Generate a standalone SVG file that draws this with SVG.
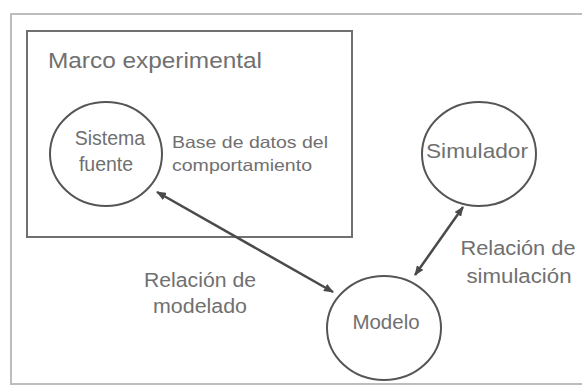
<svg xmlns="http://www.w3.org/2000/svg" width="582" height="392" viewBox="0 0 582 392">
<defs>
<marker id="ah" viewBox="0 0 10 8" refX="9" refY="4" markerWidth="4" markerHeight="3.2" orient="auto-start-reverse" markerUnits="strokeWidth">
<path d="M0,0 L10,4 L0,8 z" fill="#4a4a4a"/>
</marker>
<style>
.t{font-family:"Liberation Sans",Arial,sans-serif;fill:#707070;}
.node{fill:#fff;stroke:#555;stroke-width:2;}
.conn{stroke:#4a4a4a;stroke-width:2.5;fill:none;marker-start:url(#ah);marker-end:url(#ah);}
</style>
</defs>
<rect width="582" height="392" fill="#fff"/>
<rect id="outer" x="11" y="14" width="590" height="370" fill="none" stroke="#bdbdbd" stroke-width="2"/>
<g id="marco">
<rect x="27" y="31" width="325" height="206" fill="none" stroke="#707070" stroke-width="2"/>
<text class="t" x="48" y="68" font-size="22" textLength="214" lengthAdjust="spacingAndGlyphs">Marco experimental</text>
</g>
<g id="base-datos">
<text class="t" x="172" y="148" font-size="16.5" textLength="156" lengthAdjust="spacingAndGlyphs">Base de datos del</text>
<text class="t" x="172" y="171" font-size="16.5" textLength="140" lengthAdjust="spacingAndGlyphs">comportamiento</text>
</g>
<g id="conectores">
<line class="conn" x1="157" y1="192" x2="333" y2="292"/>
<line class="conn" x1="463" y1="207" x2="415" y2="275"/>
</g>
<g id="sistema">
<ellipse class="node" cx="106" cy="154" rx="56" ry="52"/>
<text class="t" x="110" y="145" font-size="19.5" text-anchor="middle">Sistema</text>
<text class="t" x="106" y="171" font-size="19.5" text-anchor="middle">fuente</text>
</g>
<g id="simulador">
<ellipse class="node" cx="479" cy="154" rx="57" ry="52"/>
<text class="t" x="477" y="158" font-size="21" text-anchor="middle" textLength="102" lengthAdjust="spacingAndGlyphs">Simulador</text>
</g>
<g id="modelo">
<ellipse class="node" cx="384" cy="328" rx="57" ry="52"/>
<text class="t" x="386" y="329" font-size="20.5" text-anchor="middle">Modelo</text>
</g>
<g id="rel-modelado">
<text class="t" x="200" y="287" font-size="20" text-anchor="middle" textLength="112" lengthAdjust="spacingAndGlyphs">Relación de</text>
<text class="t" x="200" y="313" font-size="20" text-anchor="middle" textLength="94" lengthAdjust="spacingAndGlyphs">modelado</text>
</g>
<g id="rel-simulacion">
<text class="t" x="518" y="255" font-size="20" text-anchor="middle" textLength="115" lengthAdjust="spacingAndGlyphs">Relación de</text>
<text class="t" x="519" y="283" font-size="20" text-anchor="middle" textLength="105" lengthAdjust="spacingAndGlyphs">simulación</text>
</g>
</svg>
